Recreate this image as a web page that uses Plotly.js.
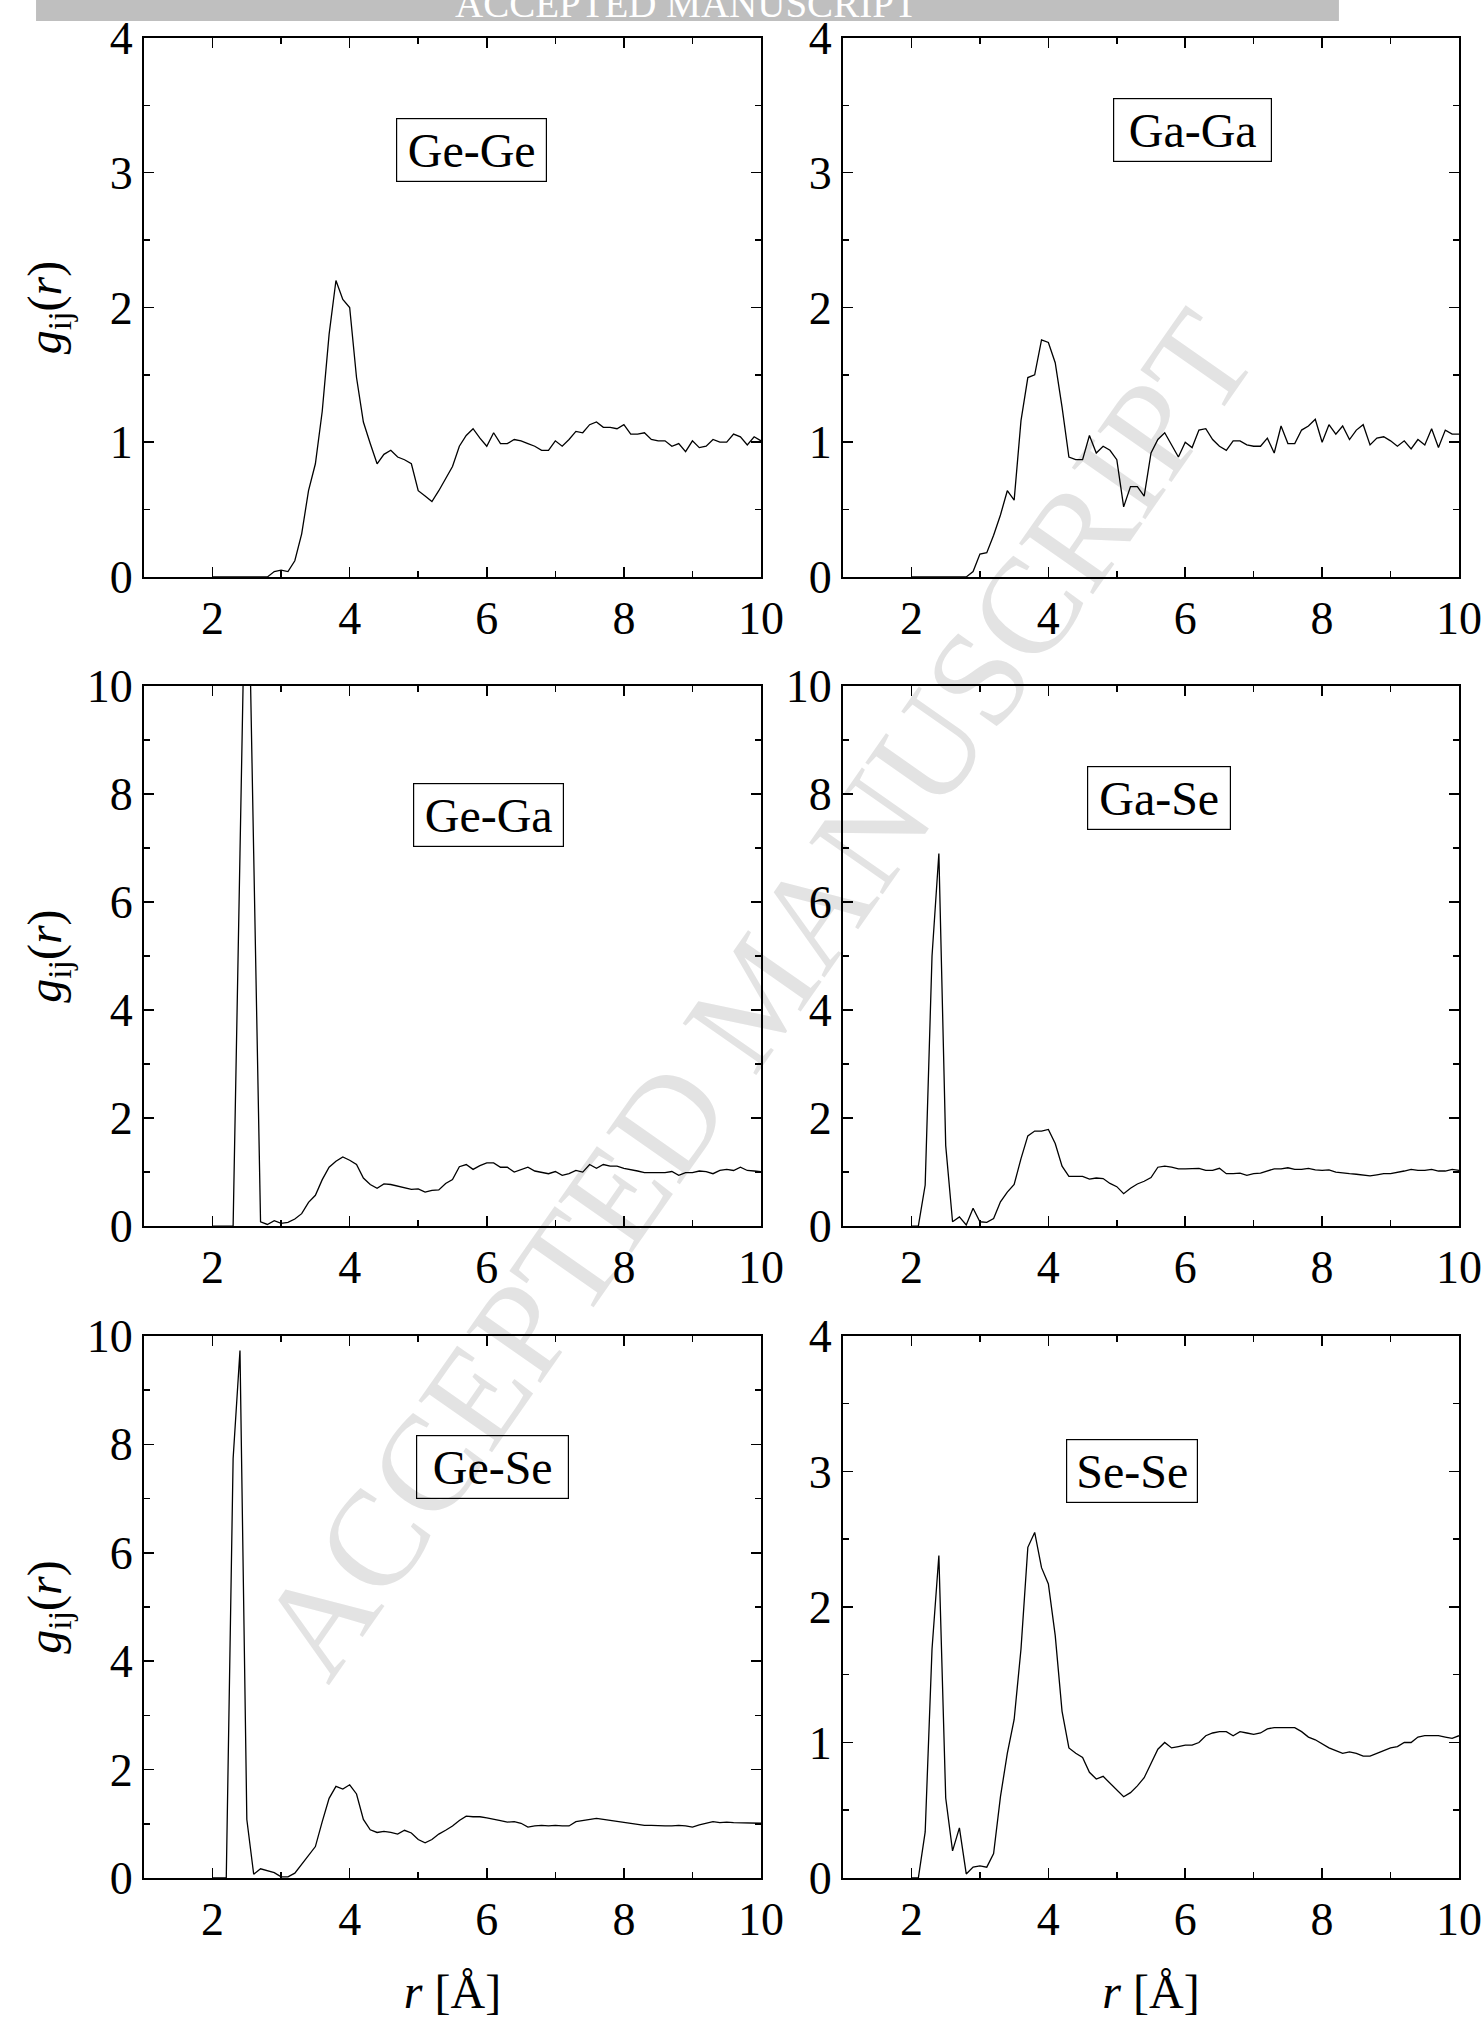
<!DOCTYPE html>
<html><head><meta charset="utf-8">
<script src="https://cdn.plot.ly/plotly-3.0.1.min.js"></script>
<style>html,body{margin:0;padding:0;background:#fff}</style>
</head><body>
<div id="chart" style="width:1483px;height:2019px"></div>
<script>
// r grid [Å]
const r = [2.0,2.1,2.2,2.3,2.4,2.5,2.6,2.7,2.8,2.9,
3.0,3.1,3.2,3.3,3.4,3.5,3.6,3.7,3.8,3.9,
4.0,4.1,4.2,4.3,4.4,4.5,4.6,4.7,4.8,4.9,
5.0,5.1,5.2,5.3,5.4,5.5,5.6,5.7,5.8,5.9,
6.0,6.1,6.2,6.3,6.4,6.5,6.6,6.7,6.8,6.9,
7.0,7.1,7.2,7.3,7.4,7.5,7.6,7.7,7.8,7.9,
8.0,8.1,8.2,8.3,8.4,8.5,8.6,8.7,8.8,8.9,
9.0,9.1,9.2,9.3,9.4,9.5,9.6,9.7,9.8,9.9,10.0];

const gGeGe = [0,0,0,0,0,0,0,0,0,0.04,
0.05,0.04,0.12,0.32,0.64,0.84,1.23,1.80,2.20,2.06,
2.00,1.48,1.15,0.99,0.84,0.91,0.94,0.89,0.87,0.84,
0.64,0.60,0.56,0.64,0.73,0.82,0.97,1.05,1.10,1.03,
0.97,1.07,0.99,0.99,1.02,1.01,0.99,0.97,0.94,0.94,
1.01,0.97,1.02,1.08,1.07,1.13,1.15,1.11,1.11,1.10,
1.13,1.06,1.06,1.07,1.02,1.01,1.01,0.97,0.99,0.93,
1.01,0.96,0.97,1.02,1.00,1.00,1.06,1.04,0.98,1.04,1.01];

const gGaGa = [0,0,0,0,0,0,0,0,0,0.04,
0.17,0.18,0.31,0.46,0.64,0.57,1.16,1.48,1.50,1.76,
1.74,1.59,1.26,0.89,0.87,0.87,1.05,0.92,0.97,0.94,
0.87,0.52,0.67,0.67,0.60,0.92,1.02,1.07,0.98,0.89,
1.00,0.96,1.09,1.10,1.02,0.97,0.94,1.01,1.01,0.98,
0.97,0.97,1.03,0.92,1.12,0.99,0.99,1.09,1.12,1.17,
1.00,1.13,1.06,1.12,1.02,1.09,1.13,0.98,1.03,1.04,
1.01,0.97,1.01,0.95,1.02,0.98,1.10,0.96,1.09,1.06,1.06];

const gGeGa = [0,0,0,0,6.9,13.8,6.9,0.08,0.03,0.10,
0.05,0.07,0.13,0.23,0.44,0.57,0.86,1.09,1.20,1.28,
1.22,1.14,0.89,0.77,0.70,0.78,0.77,0.74,0.70,0.68,
0.69,0.63,0.66,0.67,0.79,0.86,1.10,1.14,1.05,1.12,
1.17,1.17,1.09,1.09,1.00,1.05,1.09,1.02,0.99,0.97,
1.01,0.94,0.97,1.03,1.00,1.14,1.07,1.14,1.11,1.11,
1.07,1.05,1.02,0.99,0.99,0.99,0.99,1.01,0.94,0.99,
0.99,1.02,1.01,0.97,1.03,1.05,1.03,1.09,1.03,1.02,1.01];

const gGaSe = [0,0,0.76,5.0,6.9,1.49,0.08,0.17,0.02,0.33,
0.08,0.07,0.14,0.45,0.63,0.77,1.25,1.67,1.76,1.76,
1.79,1.53,1.11,0.92,0.92,0.92,0.87,0.89,0.88,0.79,
0.73,0.60,0.70,0.78,0.83,0.90,1.09,1.11,1.09,1.06,
1.06,1.06,1.07,1.03,1.03,1.07,0.97,0.97,0.98,0.94,
0.97,0.98,1.02,1.06,1.06,1.08,1.05,1.05,1.07,1.04,
1.03,1.04,1.00,0.98,0.97,0.96,0.95,0.93,0.95,0.97,
0.97,0.99,1.02,1.05,1.03,1.03,1.05,1.02,1.02,1.05,1.03];

const gGeSe = [0,0,0,7.74,9.73,1.08,0.07,0.17,0.13,0.10,
0.02,0.02,0.09,0.25,0.42,0.58,1.04,1.47,1.69,1.64,
1.72,1.55,1.08,0.89,0.84,0.86,0.84,0.81,0.88,0.83,
0.71,0.65,0.71,0.81,0.88,0.96,1.06,1.14,1.13,1.13,
1.11,1.09,1.06,1.03,1.04,1.01,0.94,0.96,0.97,0.96,
0.97,0.96,0.96,1.04,1.06,1.08,1.10,1.08,1.06,1.05,
1.02,1.01,0.99,0.97,0.97,0.96,0.96,0.96,0.97,0.96,
0.94,0.98,1.01,1.04,1.02,1.03,1.02,1.02,1.02,1.01,1.01];

const gSeSe = [0,0,0.34,1.69,2.38,0.59,0.20,0.37,0.03,0.08,
0.09,0.08,0.18,0.60,0.92,1.17,1.69,2.44,2.55,2.29,
2.17,1.79,1.23,0.96,0.92,0.89,0.78,0.73,0.75,0.70,
0.65,0.60,0.63,0.68,0.74,0.84,0.95,1.00,0.96,0.97,
0.98,0.98,1.00,1.05,1.07,1.08,1.08,1.05,1.08,1.07,
1.06,1.07,1.10,1.11,1.11,1.11,1.11,1.08,1.04,1.02,
0.99,0.96,0.94,0.92,0.93,0.92,0.90,0.90,0.92,0.94,
0.96,0.97,1.00,1.00,1.04,1.05,1.05,1.05,1.04,1.03,1.05];

const panelNames = ["Ge-Ge","Ga-Ga","Ge-Ga","Ga-Se","Ge-Se","Se-Se"];
const panelSeries = [gGeGe, gGaGa, gGeGa, gGaSe, gGeSe, gSeSe];
const yMax = [4, 4, 10, 10, 10, 4];

const FONT = 'Liberation Serif, "Times New Roman", Times, serif';

// layout geometry (styles)
const colDom = [[0, 0.4692], [0.5316, 1]];
const rowDom = [[0.7071, 1], [0.3543, 0.6478], [0, 0.2946]];
const labelPos = [[5.78, 3.17, 141], [6.11, 3.32, 149], [6.02, 7.62, 141], [5.61, 7.92, 134], [6.08, 7.58, 143], [5.22, 3.0, 122]];

const traces = [];
const layout = {
  width: 1483, height: 2019,
  margin: {l: 144, r: 24, t: 38, b: 141, pad: 0},
  paper_bgcolor: '#ffffff', plot_bgcolor: 'rgba(0,0,0,0)',
  showlegend: false,
  font: {family: FONT, color: '#000', size: 46},
  annotations: [], shapes: []
};

panelNames.forEach((name, i) => {
  const n = i + 1;
  const row = Math.floor(i / 2), col = i % 2;
  const xk = n === 1 ? 'xaxis' : 'xaxis' + n;
  const yk = n === 1 ? 'yaxis' : 'yaxis' + n;
  const xr = n === 1 ? 'x' : 'x' + n;
  const yr = n === 1 ? 'y' : 'y' + n;
  traces.push({
    type: 'scatter', mode: 'lines', x: r, y: panelSeries[i], name: name,
    xaxis: xr, yaxis: yr, line: {color: '#000', width: 1.3}, hoverinfo: 'x+y'
  });
  const common = {
    showline: true, linecolor: '#000', linewidth: 2, mirror: 'ticks',
    ticks: 'inside', ticklen: 10, tickwidth: 1.5, tickcolor: '#000',
    showgrid: false, zeroline: false, tickmode: 'linear', tick0: 0,
    tickfont: {family: FONT, size: 46, color: '#000'}, automargin: false
  };
  layout[xk] = Object.assign({}, common, {
    domain: colDom[col], anchor: yr, range: [1, 10], dtick: 2,
    minor: {dtick: 1, ticks: 'inside', ticklen: 6, tickwidth: 1.5, tickcolor: '#000'}
  });
  if (row === 2) {
    layout[xk].title = {text: '<i>r</i> [Å]', font: {family: FONT, size: 48, color: '#000'}, standoff: 30};
  }
  const big = yMax[i] > 5;
  layout[yk] = Object.assign({}, common, {
    domain: rowDom[row], anchor: xr, range: [0, yMax[i]], dtick: big ? 2 : 1,
    minor: {dtick: big ? 1 : 0.5, ticks: 'inside', ticklen: 6, tickwidth: 1.5, tickcolor: '#000'}
  });
  if (col === 0) {
    layout[yk].title = {text: '<i>g</i><sub>ij</sub>(<i>r</i>)', font: {family: FONT, size: 48, color: '#000'}, standoff: big ? 10 : 33};
  }
  layout.annotations.push({
    xref: xr, yref: yr, x: labelPos[i][0], y: labelPos[i][1], text: name,
    showarrow: false, font: {family: FONT, size: 48, color: '#000'},
    bordercolor: '#000', borderwidth: 1.2, borderpad: 4, width: labelPos[i][2], height: 54,
    bgcolor: 'rgba(0,0,0,0)', align: 'center', valign: 'middle'
  });
});

// header banner
layout.shapes.push({
  type: 'rect', xref: 'paper', yref: 'paper', x0: -0.0821, x1: 0.9087, y0: 1.0092, y1: 1.04,
  fillcolor: '#bfbfbf', line: {width: 0}, layer: 'above'
});
layout.annotations.push({
  xref: 'paper', yref: 'paper', x: 0.4129, y: 1.0185, xanchor: 'center', yanchor: 'middle',
  text: 'ACCEPTED MANUSCRIPT', showarrow: false, font: {family: FONT, size: 39, color: '#ffffff'}
});
// diagonal watermark
layout.shapes.push({
  type: 'rect', xref: 'paper', yref: 'paper', x0: 0.4556, x1: 0.4576, y0: 0.484, y1: 0.486,
  fillcolor: 'rgba(0,0,0,0)', line: {width: 0}, layer: 'below',
  label: {text: 'ACCEPTED MANUSCRIPT', textangle: -55, textposition: 'middle center',
          font: {family: FONT, size: 137, color: '#e3e3e3'}}
});

Plotly.newPlot('chart', traces, layout, {staticPlot: true, displayModeBar: false});
</script>
</body></html>
